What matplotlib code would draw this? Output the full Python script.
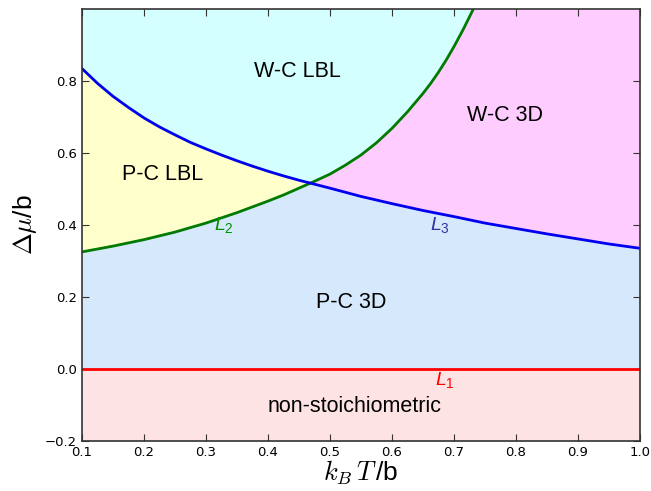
import numpy as np
import matplotlib
matplotlib.use("Agg")
import matplotlib.pyplot as plt

plt.rcParams['mathtext.fontset'] = 'custom'
plt.rcParams['mathtext.rm'] = 'Liberation Sans'
plt.rcParams['mathtext.it'] = 'Liberation Sans:italic'
plt.rcParams['mathtext.bf'] = 'Liberation Sans:bold'

# L3 line (blue)
x_l3 = [0.100, 0.125, 0.150, 0.175, 0.200, 0.225, 0.250, 0.275, 0.300, 0.325,
        0.350, 0.375, 0.400, 0.425, 0.450, 0.475, 0.500, 0.550, 0.600, 0.650,
        0.700, 0.750, 0.800, 0.850, 0.900, 0.950, 1.000]
y_l3 = [0.834, 0.793, 0.757, 0.726, 0.697, 0.672, 0.650, 0.629, 0.611, 0.594,
        0.578, 0.563, 0.549, 0.536, 0.524, 0.513, 0.502, 0.479, 0.459, 0.440,
        0.423, 0.405, 0.390, 0.375, 0.361, 0.347, 0.335]

# L2 line (green)
x_l2 = [0.10, 0.15, 0.20, 0.25, 0.30, 0.35, 0.40, 0.425, 0.45, 0.475, 0.50,
        0.525, 0.55, 0.575, 0.60, 0.625, 0.65, 0.6625, 0.675, 0.6875, 0.70,
        0.715, 0.73, 0.74]
y_l2 = [0.325, 0.341, 0.359, 0.380, 0.405, 0.434, 0.466, 0.483, 0.502, 0.521, 0.541,
        0.566, 0.594, 0.628, 0.668, 0.714, 0.765, 0.793, 0.824, 0.858, 0.895,
        0.943, 0.995, 1.032]

# L1 line (red)
x_l1 = [0.1, 1.0]
y_l1 = [0.0, 0.0]

regions = ['W-C LBL', 'W-C 3D', 'P-C LBL', 'P-C 3D', 'non-stoichiometric']
region_xy = [(0.447, 0.826), (0.782, 0.703), (0.23, 0.541), (0.535, 0.185), (0.54, -0.105)]

ymin, ymax = -0.2, 1.0

fig = plt.figure(figsize=(6.51, 4.91), dpi=100)
ax = fig.add_axes([0.126, 0.102, 0.857, 0.880])

# fine grid only for the filled areas
xf = np.linspace(0.1, 1.0, 901)
bf = np.interp(xf, x_l3, y_l3)
gf = np.interp(xf, x_l2, y_l2, right=5.0)
gf = np.minimum(gf, ymax)

ax.fill_between(xf, ymin, 0, color='#fde3e3', lw=0)
ax.fill_between(xf, 0, bf, color='#d5e8fc', lw=0)
ax.fill_between(xf, gf, bf, where=gf < bf, color='#ffffcc', lw=0)
ax.fill_between(xf, bf, ymax, color='#ffccff', lw=0)
ax.fill_between(xf, np.maximum(bf, gf), ymax, where=gf < ymax, color='#d4ffff', lw=0)

ax.plot(x_l1, y_l1, color='red', lw=2)
ax.plot(x_l2, y_l2, color='#007a00', lw=2)
ax.plot(x_l3, y_l3, color='#0000ee', lw=2)

for name, (tx, ty) in zip(regions, region_xy):
    ax.text(tx, ty, name, fontsize=15.5, family='Liberation Sans', ha='center', va='center')

ax.text(0.329, 0.399, r'$L_{\mathit{2}}$', fontsize=14, color='#009000', ha='center', va='center')
ax.text(0.677, 0.400, r'$L_{\mathit{3}}$', fontsize=14, color='#3030a0', ha='center', va='center')
ax.text(0.685, -0.030, r'$L_{\mathit{1}}$', fontsize=14, color='red', ha='center', va='center')

ax.set_xlim(0.1, 1.0)
ax.set_ylim(ymin, ymax)
ax.set_xticks(np.arange(0.1, 1.01, 0.1))
ax.set_yticks([-0.2, 0.0, 0.2, 0.4, 0.6, 0.8])
ax.tick_params(direction='in', top=True, right=True, length=5, width=0.8,
               labelsize=9.5, colors='#333333', labelcolor='black')
ax.set_xticklabels(['0.1', '0.2', '0.3', '0.4', '0.5', '0.6', '0.7', '0.8', '0.9', '1.0'])
ax.set_yticklabels(['\u22120.2', '0.0', '0.2', '0.4', '0.6', '0.8'])
for s in ax.spines.values():
    s.set_color('#333333')
    s.set_linewidth(1.2)

ax.set_xlabel(r'$k_B\,T\,$/b', fontsize=19, math_fontfamily='cm', family='Liberation Sans', labelpad=0)
ax.set_ylabel(r'$\Delta\mu$/b', fontsize=19, math_fontfamily='cm', family='Liberation Sans', labelpad=4)

fig.savefig('out.png', dpi=100)
